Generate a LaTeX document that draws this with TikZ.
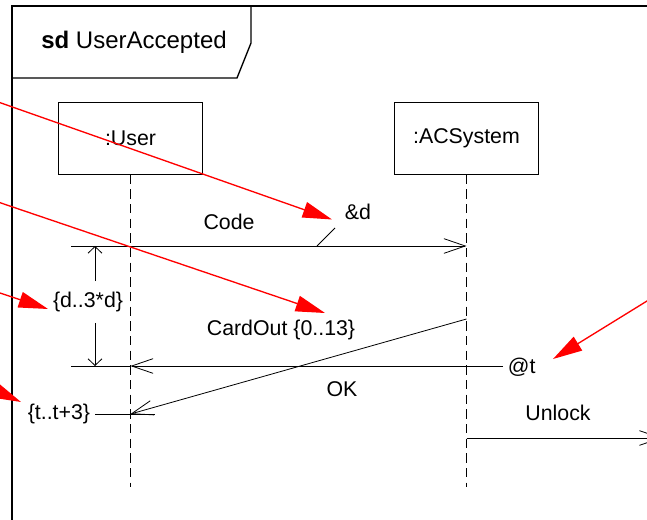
\documentclass[tikz,border=0pt]{standalone}
\usepackage{fontspec}
\setmainfont{Liberation Sans}
\usetikzlibrary{arrows.meta}

\begin{document}
\begin{tikzpicture}[x=0.75pt, y=-0.75pt,
  every node/.style={font=\fontsize{16}{19}\selectfont, inner sep=0pt},
  lifebox/.style={draw, line width=0.8pt, minimum width=108pt, minimum height=53.5pt},
  lifeline/.style={line width=0.6pt, dash pattern=on 7pt off 4pt},
  thin/.style={line width=0.6pt},
  msg/.style={line width=0.6pt, -{Straight Barb[length=16pt, width=11pt]}},
  durtip/.style={line width=0.6pt, -{Straight Barb[length=5pt, width=10.5pt]}},
  note/.style={red, line width=1pt, -{Triangle[length=22pt, width=12pt]}}]
  \useasboundingbox (0,0) rectangle (647,520);
  \clip (0,0) rectangle (647,520);
  % frame and name tab
  \draw[line width=1.5pt] (12,530) -- (12,6) -- (660,6);
  \draw[line width=1pt] (12,78) -- (237,78) -- (251,43) -- (251,6);
  \node[font=\fontsize{18}{21}\selectfont] (title) at (134,42) {\textbf{sd} UserAccepted};
  % lifelines
  \node[lifebox] (user) at (130.5,138.5) {:User};
  \node[lifebox] (acs) at (466.5,138.5) {:ACSystem};
  \coordinate (userend) at (130.5,487);
  \coordinate (acsend) at (466.5,487);
  \draw[lifeline] (user.south) -- (userend);
  \draw[lifeline] (acs.south) -- (acsend);
  % Code
  \coordinate (codeL) at (71,246);
  \draw[msg] (codeL) -- (codeL -| acs);
  \node (code) at (229,222) {Code};
  \node (amp) at (358,212) {\&d};
  \coordinate (tickA) at (317,246);
  \coordinate (tickB) at (335,228);
  \draw[thin] (tickA) -- (tickB);
  % duration
  \coordinate (durtop) at (95,246);
  \coordinate (durbot) at (95,366);
  \node[minimum height=31pt] (dlab) at (88,302) {\{d..3*d\}};
  \draw[durtip] (durtop |- dlab.north) -- (durtop);
  \draw[durtip] (durbot |- dlab.south) -- (durbot);
  % OK
  \node[anchor=west, inner xsep=3.5pt] (att) at (503,367) {@t};
  \coordinate (okL) at (71,366);
  \draw[msg] (att.west |- okL) -- (okL -| user);
  \draw[thin] (okL -| user) -- (okL);
  \node (ok) at (342,389) {OK};
  % CardOut
  \coordinate (cardS) at (466.5,319);
  \coordinate (cardE) at (130.5,414);
  \draw[msg] (cardS) -- (cardE);
  \node (card) at (281,330) {CardOut \{0..13\}};
  \node[anchor=east, inner xsep=3.5pt] (tlab) at (95,414) {\{t..t+3\}};
  \coordinate (tR) at (155,414);
  \draw[thin] (tlab.east) -- (tR);
  % Unlock
  \coordinate (unlS) at (466.5,438);
  \coordinate (unlE) at (662,438);
  \draw[msg] (unlS) -- (unlE);
  \node (unlock) at (558,413) {Unlock};
  % notes
  \coordinate (n1) at (-20,95.6);
  \coordinate (n1t) at (332,219.5);
  \coordinate (n2) at (-20,195.9);
  \coordinate (n2t) at (325,313);
  \coordinate (n3) at (-20,286.3);
  \coordinate (n3t) at (48,309);
  \coordinate (n4) at (-40,374.5);
  \coordinate (n4t) at (21,402);
  \coordinate (n5) at (660,293);
  \coordinate (n5t) at (553,359);
  \draw[note] (n1) -- (n1t);
  \draw[note] (n2) -- (n2t);
  \draw[note] (n3) -- (n3t);
  \draw[note] (n4) -- (n4t);
  \draw[note] (n5) -- (n5t);
\end{tikzpicture}
\end{document}
